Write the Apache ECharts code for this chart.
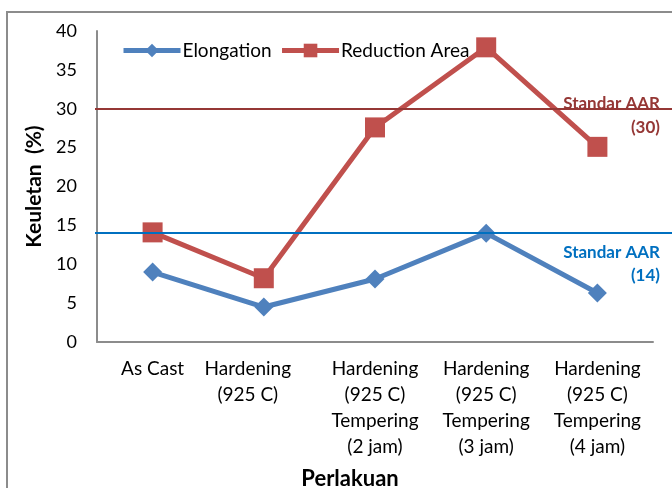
<!DOCTYPE html>
<html>
<head>
<meta charset="utf-8">
<script src="https://cdn.jsdelivr.net/npm/echarts@6/dist/echarts.min.js"></script>
<style>
  html, body { margin: 0; padding: 0; background: #fff; }
  #chart { width: 672px; height: 488px; }
</style>
</head>
<body>
<div id="chart"></div>
<script>
var categories = [
  'As Cast',
  'Hardening\n(925 C)',
  'Hardening\n(925 C)\nTempering\n(2 jam)',
  'Hardening\n(925 C)\nTempering\n(3 jam)',
  'Hardening\n(925 C)\nTempering\n(4 jam)'
]
var elongation = [9.0, 4.5, 8.1, 14.0, 6.3]
var reductionArea = [14.1, 8.2, 27.6, 37.9, 25.1]
var standarReduction = 30
var standarElongation = 14
var yTicks = [0, 5, 10, 15, 20, 25, 30, 35, 40]

var font = 'Lato, "Noto Sans", sans-serif'
var chart = echarts.init(document.getElementById('chart'))

var option = {
  animation: false,
  backgroundColor: '#fff',
  textStyle: { fontFamily: font },
  graphic: [{
    type: 'rect',
    shape: { x: 7, y: 12, width: 700, height: 500 },
    style: { fill: 'none', stroke: '#8c8c8c', lineWidth: 2 },
    silent: true
  }],
  legend: {
    left: 116,
    top: 36,
    itemWidth: 57,
    itemHeight: 17,
    itemGap: 8,
    lineStyle: { width: 5 },
    textStyle: { fontSize: 19, color: '#000', fontFamily: font, padding: [0, 0, 0, -3] },
    data: ['Elongation', 'Reduction Area']
  },
  grid: [
    { left: 97, right: 19, top: 31, bottom: 146, outerBoundsMode: 'none', containLabel: false },
    { left: 95, right: 0, top: 31, bottom: 146, outerBoundsMode: 'none', containLabel: false }
  ],
  xAxis: [{
    type: 'category',
    gridIndex: 0,
    data: categories.map(function(c, i) {
      return i === 1 ? { value: c, textStyle: { padding: [0, 32, 0, 0] } } : c
    }),
    boundaryGap: true,
    axisLine: { lineStyle: { color: '#8c8c8c', width: 2 } },
    axisTick: { show: false },
    axisLabel: {
      interval: 0,
      fontSize: 19,
      color: '#000',
      lineHeight: 26,
      margin: 14,
      fontFamily: font
    },
    name: 'Perlakuan',
    nameLocation: 'middle',
    nameGap: 126,
    nameTextStyle: { fontSize: 22, fontWeight: 'bold', color: '#000', fontFamily: font, padding: [0, 50, 0, 0] }
  }, {
    type: 'category',
    gridIndex: 1,
    data: categories,
    show: false
  }],
  yAxis: [{
    type: 'value',
    gridIndex: 0,
    min: 0,
    max: 40,
    interval: 5,
    axisLine: { show: true, lineStyle: { color: '#8c8c8c', width: 2 } },
    axisTick: { show: false },
    splitLine: { show: false },
    axisLabel: {
      fontSize: 18,
      color: '#000',
      margin: 20,
      fontFamily: font,
      customValues: yTicks
    },
    name: 'Keuletan  (%)',
    nameLocation: 'middle',
    nameGap: 52,
    nameTextStyle: { fontSize: 21, fontWeight: 'bold', color: '#000', fontFamily: font }
  }, {
    type: 'value',
    gridIndex: 1,
    min: 0,
    max: 40,
    show: false
  }],
  series: [{
    name: 'Standar',
    type: 'line',
    xAxisIndex: 1,
    yAxisIndex: 1,
    data: [],
    silent: true,
    markLine: {
      silent: true,
      symbol: 'none',
      data: [{
        yAxis: standarReduction,
        lineStyle: { color: '#953735', width: 2, type: 'solid' },
        label: {
          position: 'insideEndTop',
          formatter: 'Standar AAR\n(' + standarReduction + ')',
          color: '#953735',
          fontWeight: 'bold',
          fontSize: 17,
          lineHeight: 24,
          align: 'right',
          distance: [12, -31],
          fontFamily: font
        }
      }, {
        yAxis: standarElongation,
        lineStyle: { color: '#0070c0', width: 2, type: 'solid' },
        label: {
          position: 'insideEndBottom',
          formatter: 'Standar AAR\n(' + standarElongation + ')',
          color: '#0070c0',
          fontWeight: 'bold',
          fontSize: 17,
          lineHeight: 23,
          align: 'right',
          distance: [12, 8],
          fontFamily: font
        }
      }]
    }
  }, {
    name: 'Elongation',
    type: 'line',
    data: elongation,
    color: '#4f81bd',
    symbol: 'diamond',
    symbolSize: 19,
    lineStyle: { width: 5, color: '#4f81bd' },
    itemStyle: { color: '#4f81bd' },
    z: 3
  }, {
    name: 'Reduction Area',
    type: 'line',
    data: reductionArea,
    color: '#c0504d',
    symbol: 'rect',
    symbolSize: 20,
    lineStyle: { width: 5, color: '#c0504d' },
    itemStyle: { color: '#c0504d' },
    z: 3
  }]
}
chart.setOption(option)
</script>
</body>
</html>
